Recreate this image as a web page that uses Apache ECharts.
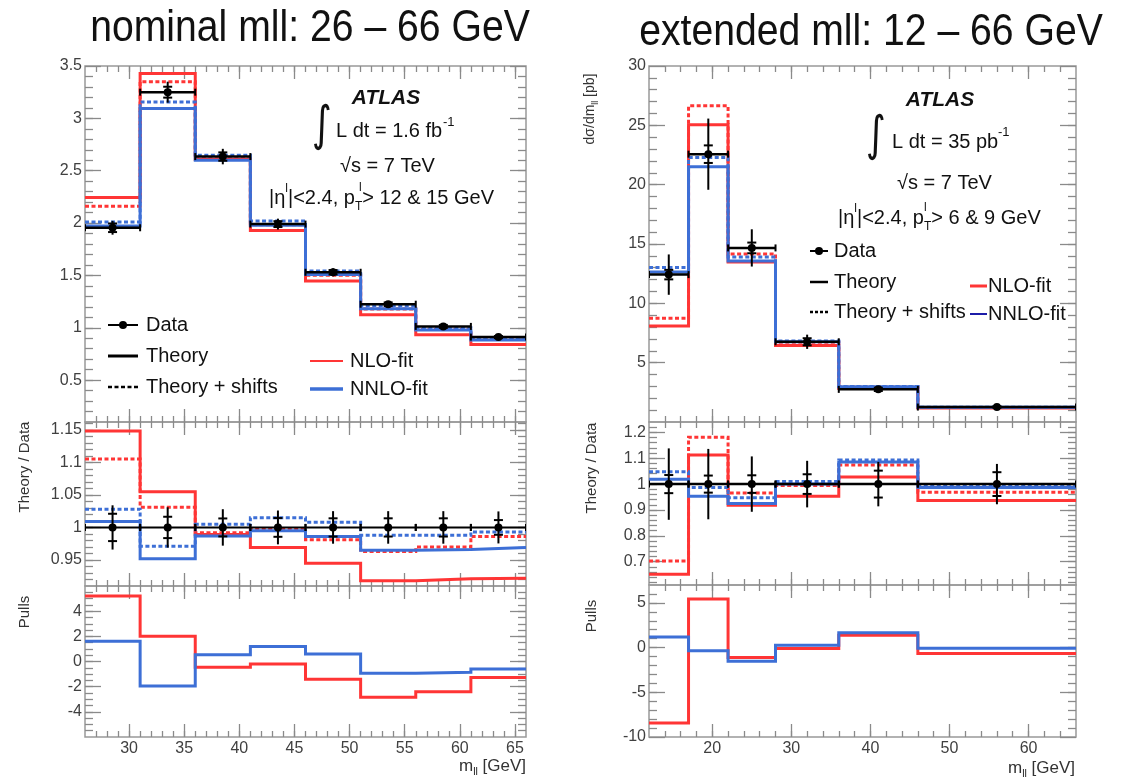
<!DOCTYPE html>
<html><head><meta charset="utf-8">
<script src="https://cdn.jsdelivr.net/npm/echarts@6/dist/echarts.min.js"></script>
<style>html,body{margin:0;padding:0;background:#fff}#c{width:1126px;height:779px}</style>
</head><body><div id="c"></div>
<script>
// ================= DATA =================
// nominal mll: 26-66 GeV
const edgesL = [26, 31, 36, 41, 46, 51, 56, 61, 66];
const dataL = [1.955, 3.25, 2.635, 1.99, 1.53, 1.225, 1.013, 0.911];
const dataErrTotL = [0.066, 0.10, 0.074, 0.052, 0.038, 0.031, 0.025, 0.022];
const dataErrStatL = [0.041, 0.052, 0.04, 0.028, 0.021, 0.017, 0.014, 0.010];
const nloL = [2.244, 3.429, 2.606, 1.928, 1.446, 1.125, 0.933, 0.84];
const nloShiftL = [2.16, 3.35, 2.614, 1.984, 1.501, 1.18, 0.983, 0.898];
const nnloL = [1.973, 3.094, 2.60, 1.98, 1.509, 1.182, 0.979, 0.883];
const nnloShiftL = [2.01, 3.156, 2.648, 2.02, 1.542, 1.21, 1.001, 0.905];
const ratioDataL = [1, 1, 1, 1, 1, 1, 1, 1];
const ratioErrTotL = [0.034, 0.031, 0.028, 0.026, 0.025, 0.025, 0.025, 0.0246];
const ratioErrStatL = [0.021, 0.0164, 0.0138, 0.0144, 0.014, 0.014, 0.014, 0.0113];
const ratioNloL = [1.148, 1.055, 0.989, 0.969, 0.945, 0.918, 0.921, 0.922];
const ratioNloShiftL = [1.105, 1.031, 0.992, 0.997, 0.981, 0.963, 0.970, 0.986];
const ratioNnloL = [1.009, 0.952, 0.987, 0.995, 0.986, 0.965, 0.966, 0.969];
const ratioNnloShiftL = [1.028, 0.971, 1.005, 1.015, 1.008, 0.988, 0.988, 0.993];
const pullNloL = [5.2, 2.0, -0.45, -0.19, -1.41, -2.85, -2.4, -1.28];
const pullNnloL = [1.6, -1.95, 0.53, 1.2, 0.59, -0.93, -0.85, -0.6];

// extended mll: 12-66 GeV
const edgesR = [12, 17, 22, 28, 36, 46, 66];
const dataR = [12.42, 22.57, 14.67, 6.76, 2.75, 1.26];
const dataErrTotR = [1.7, 3.0, 1.57, 0.6, 0.24, 0.1];
const dataErrStatR = [0.4, 0.74, 0.45, 0.3, 0.14, 0.06];
const nloR = [8.08, 25.04, 13.49, 6.45, 2.82, 1.18];
const nloShiftR = [8.75, 26.64, 14.16, 6.72, 2.95, 1.22];
const nnloR = [12.64, 21.5, 13.57, 6.76, 2.98, 1.245];
const nnloShiftR = [13.03, 22.28, 13.9, 6.83, 3.0, 1.253];
const ratioDataR = [1, 1, 1, 1, 1, 1];
const ratioErrTotR = [0.138, 0.136, 0.107, 0.09, 0.086, 0.078];
const ratioErrStatR = [0.035, 0.033, 0.034, 0.038, 0.052, 0.046];
const ratioNloR = [0.652, 1.112, 0.918, 0.953, 1.027, 0.937];
const ratioNloShiftR = [0.703, 1.181, 0.966, 0.995, 1.074, 0.968];
const ratioNnloR = [1.019, 0.953, 0.925, 1.0, 1.085, 0.987];
const ratioNnloShiftR = [1.048, 0.987, 0.947, 1.01, 1.093, 0.995];
const pullNloR = [-8.44, 5.44, -1.11, -0.1, 1.37, -0.67];
const pullNnloR = [1.18, -0.35, -1.52, 0.26, 1.67, -0.08];

// tick labels
const xTicksL = [30, 35, 40, 45, 50, 55, 60, 65];
const xTicksR = [20, 30, 40, 50, 60];
const yTicksLTop = [0.5, 1, 1.5, 2, 2.5, 3, 3.5];
const yTicksLMid = [0.95, 1, 1.05, 1.1, 1.15];
const yTicksLBot = [-4, -2, 0, 2, 4];
const yTicksRTop = [5, 10, 15, 20, 25, 30];
const yTicksRMid = [0.7, 0.8, 0.9, 1, 1.1, 1.2];
const yTicksRBot = [-10, -5, 0, 5];

// ================= STYLE / LAYOUT =================
const FF = "'Liberation Sans', Arial, Helvetica, sans-serif";
const RED = '#ff3535', BLUE = '#3d6fd6', NAVY = '#1c1ca8';
const FRAME = '#999', TICK = '#8a8a8a', LABEL = '#404040';

const grids = [], xAxes = [], yAxes = [], series = [];

function minorVals(min, max, step, n) {
  const out = [], m = step / n;
  for (let k = Math.ceil(min / m - 1e-9); k * m <= max + 1e-9; k++) {
    const v = +(k * m).toFixed(6);
    if (v > min + 1e-9 && v < max - 1e-9) out.push(v);
  }
  return out;
}
function axis(gi, pos, min, max, vals, len, labelVals, isX) {
  return {
    type: 'value', gridIndex: gi, position: pos, min, max, offset: 0,
    axisLine: { show: false, onZero: false },
    splitLine: { show: false },
    axisTick: { show: true, inside: true, length: len, customValues: vals, lineStyle: { color: TICK, width: 1.3 } },
    axisLabel: labelVals ? { show: true, customValues: labelVals, fontSize: 16, color: LABEL, fontFamily: FF, margin: isX ? 4 : 3, showMinLabel: true, showMaxLabel: true } : { show: false },
    axisPointer: { show: false }, silent: true
  };
}
function panel(box, xr, xStep, xN, xMajor, xLabels, yr, yStep, yN, yMajor, yLabels) {
  const gi = grids.length;
  grids.push({ left: box[0], top: box[1], width: box[2], height: box[3], show: true, borderColor: FRAME, borderWidth: 1.5, backgroundColor: 'rgba(0,0,0,0)' });
  const xMinor = minorVals(xr[0], xr[1], xStep, xN), yMinor = minorVals(yr[0], yr[1], yStep, yN);
  const xi = xAxes.length;
  xAxes.push(axis(gi, 'bottom', xr[0], xr[1], xMajor, 13, xLabels, true));
  xAxes.push(axis(gi, 'top', xr[0], xr[1], xMajor, 13, null, true));
  xAxes.push(axis(gi, 'bottom', xr[0], xr[1], xMinor, 6, null, true));
  xAxes.push(axis(gi, 'top', xr[0], xr[1], xMinor, 6, null, true));
  const yi = yAxes.length;
  yAxes.push(axis(gi, 'left', yr[0], yr[1], yMajor, 16, yLabels, false));
  yAxes.push(axis(gi, 'right', yr[0], yr[1], yMajor, 16, null, false));
  yAxes.push(axis(gi, 'left', yr[0], yr[1], yMinor, 8, null, false));
  yAxes.push(axis(gi, 'right', yr[0], yr[1], yMinor, 8, null, false));
  return { xi, yi };
}
function hist(edges, vals) {
  const d = vals.map((v, i) => [edges[i], v]);
  d.push([edges[edges.length - 1], vals[vals.length - 1]]);
  return d;
}
function histSeries(p, edges, vals, color, dashed, width, z) {
  series.push({
    type: 'line', xAxisIndex: p.xi, yAxisIndex: p.yi, data: hist(edges, vals), step: 'end',
    symbol: 'none', silent: true, animation: false, clip: true, z,
    lineStyle: { color, width, type: dashed ? [4, 2.5] : 'solid', cap: 'butt', join: 'miter' }
  });
}
function dataSeries(p, edges, vals, tot, stat, xw) {
  const data = vals.map((v, i) => [(edges[i] + edges[i + 1]) / 2, v, tot[i], stat[i], edges[i], edges[i + 1]]);
  series.push({
    type: 'custom', xAxisIndex: p.xi, yAxisIndex: p.yi, data, z: 10, silent: true, animation: false, clip: true,
    renderItem(params, api) {
      const x = api.value(0), y = api.value(1), et = api.value(2), es = api.value(3), lo = api.value(4), hi = api.value(5);
      const c = api.coord([x, y]), t = api.coord([x, y + et]), b = api.coord([x, y - et]);
      const s1 = api.coord([x, y + es]), s2 = api.coord([x, y - es]);
      const l = api.coord([lo, y]), r = api.coord([hi, y]);
      const st = { stroke: '#000', lineWidth: xw };
      const st2 = { stroke: '#000', lineWidth: 2 };
      return {
        type: 'group', children: [
          { type: 'line', shape: { x1: l[0], y1: c[1], x2: r[0], y2: c[1] }, style: st },
          { type: 'line', shape: { x1: l[0], y1: c[1] - 3.5, x2: l[0], y2: c[1] + 3.5 }, style: st2 },
          { type: 'line', shape: { x1: r[0], y1: c[1] - 3.5, x2: r[0], y2: c[1] + 3.5 }, style: st2 },
          { type: 'line', shape: { x1: c[0], y1: t[1], x2: c[0], y2: b[1] }, style: st2 },
          { type: 'line', shape: { x1: c[0] - 4.5, y1: s1[1], x2: c[0] + 4.5, y2: s1[1] }, style: st2 },
          { type: 'line', shape: { x1: c[0] - 4.5, y1: s2[1], x2: c[0] + 4.5, y2: s2[1] }, style: st2 },
          { type: 'circle', shape: { cx: c[0], cy: c[1], r: 4 }, style: { fill: '#000' } }
        ]
      };
    }
  });
}
function four(p, edges, a, b, c, d, w) {
  histSeries(p, edges, a, RED, false, w, 2);
  histSeries(p, edges, b, RED, true, w, 3);
  histSeries(p, edges, c, BLUE, false, w, 4);
  histSeries(p, edges, d, BLUE, true, w, 5);
}

// ---- left panels ----
const LX = [26, 66], RX = [12, 66];
const pLT = panel([85, 66, 441, 356], LX, 5, 5, xTicksL, null, [0.1, 3.5], 0.5, 5, yTicksLTop, yTicksLTop);
const pLM = panel([85, 422, 441, 164], LX, 5, 5, xTicksL, null, [0.91, 1.162], 0.05, 5, yTicksLMid, yTicksLMid);
const pLB = panel([85, 586, 441, 151], LX, 5, 5, xTicksL, xTicksL, [-6, 6], 2, 4, yTicksLBot, yTicksLBot);
four(pLT, edgesL, nloL, nloShiftL, nnloL, nnloShiftL, 3);
dataSeries(pLT, edgesL, dataL, dataErrTotL, dataErrStatL, 2.5);
four(pLM, edgesL, ratioNloL, ratioNloShiftL, ratioNnloL, ratioNnloShiftL, 3);
dataSeries(pLM, edgesL, ratioDataL, ratioErrTotL, ratioErrStatL, 2);
histSeries(pLB, edgesL, pullNloL, RED, false, 3, 2);
histSeries(pLB, edgesL, pullNnloL, BLUE, false, 3, 4);

// ---- right panels ----
const pRT = panel([649, 66, 427, 356], RX, 10, 5, xTicksR, null, [0, 30], 5, 5, yTicksRTop, yTicksRTop);
const pRM = panel([649, 422, 427, 163], RX, 10, 5, xTicksR, null, [0.61, 1.24], 0.1, 5, yTicksRMid, yTicksRMid);
const pRB = panel([649, 585, 427, 152], RX, 10, 5, xTicksR, xTicksR, [-10, 7], 5, 5, yTicksRBot, yTicksRBot);
four(pRT, edgesR, nloR, nloShiftR, nnloR, nnloShiftR, 3);
dataSeries(pRT, edgesR, dataR, dataErrTotR, dataErrStatR, 2.5);
four(pRM, edgesR, ratioNloR, ratioNloShiftR, ratioNnloR, ratioNnloShiftR, 3);
dataSeries(pRM, edgesR, ratioDataR, ratioErrTotR, ratioErrStatR, 2.5);
histSeries(pRB, edgesR, pullNloR, RED, false, 3, 2);
histSeries(pRB, edgesR, pullNnloR, BLUE, false, 3, 4);

// ================= TEXT / LEGENDS =================
function T(x, y, text, size, o) {
  o = o || {};
  const el = {
    type: 'text', x, y, z: 100, silent: true,
    rotation: o.rot || 0, scaleX: o.sx || 1, scaleY: o.sy || 1,
    style: {
      text, fontSize: size, fontFamily: o.ff || FF, fill: o.color || '#111',
      fontWeight: o.bold ? 'bold' : 'normal', fontStyle: o.italic ? 'italic' : 'normal',
      textAlign: o.align || 'left', textVerticalAlign: 'middle',
      align: o.align || 'left', verticalAlign: 'middle'
    }
  };
  if (o.rich) { el.style.rich = o.rich; el.style.lineHeight = o.lh || size + 8; }
  return el;
}
function Ln(x1, y1, x2, y2, color, w, dash) {
  return { type: 'line', z: 100, silent: true, shape: { x1, y1, x2, y2 }, style: { stroke: color, lineWidth: w, lineDash: dash || null } };
}
function Dot(cx, cy) { return { type: 'circle', z: 101, silent: true, shape: { cx, cy, r: 4 }, style: { fill: '#000' } }; }
const richSS = {
  sup: { fontSize: 12, fontFamily: FF, verticalAlign: 'top', lineHeight: 12 },
  sub: { fontSize: 12, fontFamily: FF, verticalAlign: 'bottom', lineHeight: 12 }
};
const richSub = (fs) => ({ s: { fontSize: fs * 0.62, fontFamily: FF, verticalAlign: 'bottom', lineHeight: fs * 0.62, fill: '#222' } });

const g = [];
// titles
g.push(T(310, 29, 'nominal mll: 26 – 66 GeV', 44, { align: 'center', sx: 0.89 }));
g.push(T(871, 33, 'extended mll: 12 – 66 GeV', 44, { align: 'center', sx: 0.89 }));
// left annotations
g.push(T(386, 98, 'ATLAS', 21, { align: 'center', bold: true, italic: true }));
g.push(T(322, 128, '∫', 48, { align: 'center', ff: "'DejaVu Sans', sans-serif", sx: 0.8 }));
g.push(T(336, 131, 'L dt = 1.6 fb', 20));
g.push(T(443, 122, '-1', 13));
g.push(T(340, 166, '√s = 7 TeV', 20));
g.push(T(269, 198, '|η{sup|l}|<2.4, p{sub|T}> 12 & 15 GeV', 20, { rich: richSS, lh: 30 }));
g.push(T(359, 188, 'l', 12));
// left legend
g.push(Ln(108, 325, 138, 325, '#000', 2)); g.push(Dot(123, 325));
g.push(T(146, 325, 'Data', 20));
g.push(Ln(108, 356, 138, 356, '#000', 3));
g.push(T(146, 356, 'Theory', 20));
g.push(Ln(108, 387, 138, 387, '#000', 2.5, [4, 2.5]));
g.push(T(146, 387, 'Theory + shifts', 20));
g.push(Ln(310, 361, 343, 361, RED, 2));
g.push(T(350, 361, 'NLO-fit', 20));
g.push(Ln(310, 389, 343, 389, BLUE, 3.5));
g.push(T(350, 389, 'NNLO-fit', 20));
// right annotations
g.push(T(940, 100, 'ATLAS', 21, { align: 'center', bold: true, italic: true }));
g.push(T(876, 138, '∫', 48, { align: 'center', ff: "'DejaVu Sans', sans-serif", sx: 0.8 }));
g.push(T(892, 142, 'L dt = 35 pb', 20));
g.push(T(998, 132, '-1', 13));
g.push(T(897, 183, '√s = 7 TeV', 20));
g.push(T(838, 218, '|η{sup|l}|<2.4, p{sub|T}> 6 & 9 GeV', 20, { rich: richSS, lh: 30 }));
g.push(T(924, 208, 'l', 12));
// right legend
g.push(Ln(810, 251, 828, 251, '#000', 2)); g.push(Dot(819, 251));
g.push(T(834, 251, 'Data', 20));
g.push(Ln(810, 282, 828, 282, '#000', 2.5));
g.push(T(834, 282, 'Theory', 20));
g.push(Ln(810, 312, 828, 312, '#000', 2.5, [3, 2]));
g.push(T(834, 312, 'Theory + shifts', 20));
g.push(Ln(970, 286, 987, 286, RED, 3));
g.push(T(988, 286, 'NLO-fit', 20));
g.push(Ln(970, 314, 987, 314, NAVY, 2));
g.push(T(988, 314, 'NNLO-fit', 20));
// axis titles
const ROT = Math.PI / 2;
g.push(T(25, 467, 'Theory / Data', 15, { align: 'center', rot: ROT, color: '#333' }));
g.push(T(25, 612, 'Pulls', 15, { align: 'center', rot: ROT, color: '#333' }));
g.push(T(590, 109, 'dσ/dm{s|ll} [pb]', 14, { align: 'center', rot: ROT, color: '#333', rich: richSub(14), lh: 20 }));
g.push(T(592, 468, 'Theory / Data', 15, { align: 'center', rot: ROT, color: '#333' }));
g.push(T(592, 616, 'Pulls', 15, { align: 'center', rot: ROT, color: '#333' }));
g.push(T(526, 766, 'm{s|ll} [GeV]', 17, { align: 'right', color: '#333', rich: richSub(17), lh: 24 }));
g.push(T(1075, 768, 'm{s|ll} [GeV]', 17, { align: 'right', color: '#333', rich: richSub(17), lh: 24 }));

const chart = echarts.init(document.getElementById('c'), null, { renderer: 'canvas' });
chart.setOption({
  backgroundColor: '#fff', animation: false,
  grid: grids, xAxis: xAxes, yAxis: yAxes, series, graphic: { elements: g }
});
</script></body></html>
